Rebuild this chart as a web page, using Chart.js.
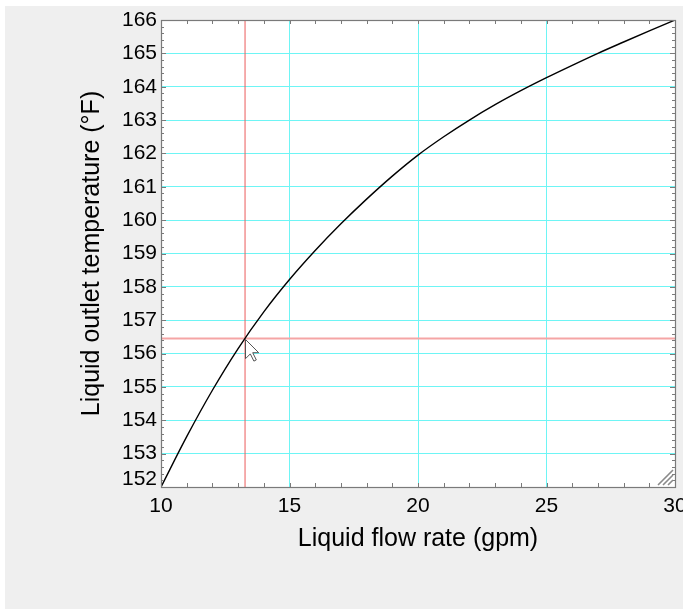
<!DOCTYPE html>
<html><head><meta charset="utf-8">
<script src="https://cdn.jsdelivr.net/npm/chart.js@4"></script>
<style>
html,body{margin:0;padding:0;background:#fff;width:683px;height:609px;overflow:hidden}
#panel{position:absolute;left:5px;top:6px;width:678px;height:603px;background:#efefef;overflow:hidden}
canvas{display:block}
</style></head><body>
<div id="panel"><canvas id="c" width="678" height="603"></canvas></div>
<script>
// ---- data ----
const flowRate   = [10, 11, 12, 13, 14, 15, 16, 17, 18, 19, 20, 21, 22, 23, 24, 25, 26, 27, 28, 29, 30];
const outletTemp = [152.0, 153.51, 154.90, 156.15, 157.25, 158.22, 159.09, 159.89, 160.63, 161.32, 161.95,
                    162.50, 163.00, 163.46, 163.88, 164.27, 164.64, 165.0, 165.34, 165.675, 166.0];
const xTickValues = [10, 15, 20, 25, 30];
const yTickValues = [152, 153, 154, 155, 156, 157, 158, 159, 160, 161, 162, 163, 164, 165, 166];
const markerFlow = [13.27];
const markerTemp = [156.45];
const xTitle = 'Liquid flow rate (gpm)';
const yTitle = 'Liquid outlet temperature (°F)';

const FONT = "'Liberation Sans', Arial, sans-serif";
const CYAN = 'rgb(110,245,245)';
const FRAME = '#7a7a7a';

const xMin = xTickValues[0], xMax = xTickValues[xTickValues.length - 1];
const yMin = yTickValues[0], yMax = yTickValues[yTickValues.length - 1];

const plotBg = {
  id: 'plotBg',
  beforeDraw(chart) {
    const {ctx, chartArea: a} = chart;
    ctx.save();
    ctx.fillStyle = '#fff';
    ctx.fillRect(a.left, a.top, a.right - a.left, a.bottom - a.top);
    ctx.restore();
  }
};

const decor = {
  id: 'decor',
  afterDatasetsDraw(chart) {
    const {ctx, chartArea: a, scales: {x: xs, y: ys}} = chart;
    ctx.save();
    // minor ticks (inward)
    ctx.strokeStyle = FRAME; ctx.lineWidth = 1;
    ctx.beginPath();
    for (let v = xMin + 1; v < xMax; v++) {
      const px = Math.round(xs.getPixelForValue(v)) + 0.5;
      ctx.moveTo(px, a.bottom); ctx.lineTo(px, a.bottom - 4);
      ctx.moveTo(px, a.top); ctx.lineTo(px, a.top + 4);
    }
    for (let i = 1; i < (yMax - yMin) * 5; i++) {
      const v = yMin + i * 0.2;
      const py = Math.round(ys.getPixelForValue(v)) + 0.5;
      const len = (i % 5 === 0) ? 5 : 3;
      ctx.moveTo(a.left, py); ctx.lineTo(a.left + len, py);
      ctx.moveTo(a.right, py); ctx.lineTo(a.right - len, py);
    }
    ctx.stroke();
    // frame
    ctx.strokeStyle = FRAME; ctx.lineWidth = 1.2;
    ctx.strokeRect(Math.round(a.left) + 0.5, Math.round(a.top) + 0.5,
                   Math.round(a.right) - Math.round(a.left), Math.round(a.bottom) - Math.round(a.top));
    // resize grip
    ctx.strokeStyle = '#8a8a8a'; ctx.lineWidth = 1.6;
    ctx.beginPath();
    for (const d of [5, 10, 15]) {
      ctx.moveTo(a.right - 2, a.bottom - 2 - d);
      ctx.lineTo(a.right - 2 - d, a.bottom - 2);
    }
    ctx.stroke();
    // mouse pointer at the crosshair
    const tx = Math.round(xs.getPixelForValue(markerFlow[0])) + 0.5;
    const ty = Math.round(ys.getPixelForValue(markerTemp[0])) + 0.5;
    const s = 1.2;
    const pts = [[0,0],[0,16],[4,12],[7,18],[9,17],[6,11],[11,11]];
    ctx.beginPath();
    pts.forEach(([px, py], i) => { const X = tx + px * s, Y = ty + py * s; i ? ctx.lineTo(X, Y) : ctx.moveTo(X, Y); });
    ctx.closePath();
    ctx.fillStyle = '#fff'; ctx.fill();
    ctx.strokeStyle = '#555'; ctx.lineWidth = 1; ctx.stroke();
    ctx.restore();
  }
};

new Chart(document.getElementById('c'), {
  type: 'line',
  data: {
    datasets: [
      {
        data: flowRate.map((x, i) => ({x, y: outletTemp[i]})),
        borderColor: '#000', borderWidth: 1.4, pointRadius: 0,
        cubicInterpolationMode: 'monotone', order: 0
      },
      {
        data: [{x: xMin, y: markerTemp[0]}, {x: xMax, y: markerTemp[0]}],
        borderColor: 'rgb(245,165,165)', borderWidth: 2, pointRadius: 0, order: 1
      },
      {
        data: [{x: markerFlow[0], y: yMin}, {x: markerFlow[0], y: yMax}],
        borderColor: 'rgb(235,90,90)', borderWidth: 1, pointRadius: 0, order: 2
      }
    ]
  },
  options: {
    responsive: false, animation: false, devicePixelRatio: 1,
    layout: {padding: {top: 14, right: 8, left: 0, bottom: 0}},
    plugins: {legend: {display: false}, tooltip: {enabled: false}},
    events: [],
    scales: {
      x: {
        type: 'linear', position: 'bottom', min: xMin, max: xMax,
        afterBuildTicks: s => { s.ticks = xTickValues.map(v => ({value: v})); },
        afterFit: s => { s.height = 122; s.paddingLeft = 0; s.paddingRight = 0; },
        ticks: {color: '#000', font: {family: FONT, size: 21}, padding: 7, maxRotation: 0, autoSkip: false},
        grid: {
          drawTicks: false, lineWidth: 1,
          color: c => (c.tick && (c.tick.value === xMin || c.tick.value === xMax)) ? 'rgba(0,0,0,0)' : CYAN
        },
        border: {display: false},
        title: {display: true, text: xTitle, color: '#000', font: {family: FONT, size: 25}, padding: {top: 0, bottom: 55}}
      },
      y: {
        type: 'linear', position: 'left', min: yMin, max: yMax,
        afterBuildTicks: s => { s.ticks = yTickValues.map(v => ({value: v})); },
        afterFit: s => { s.width = 156; s.paddingTop = 0; s.paddingBottom = 0; },
        ticks: {
          color: '#000', padding: 4, autoSkip: false,
          font: c => ({family: FONT, size: 21, lineHeight: (c.tick && c.tick.value === yMin) ? 0.75 : 1.2}),
          callback: v => v === yMin ? [String(v), ''] : String(v)
        },
        grid: {
          drawTicks: false, lineWidth: 1,
          color: c => (c.tick && (c.tick.value === yMin || c.tick.value === yMax)) ? 'rgba(0,0,0,0)' : CYAN
        },
        border: {display: false},
        title: {display: true, text: yTitle, color: '#000', font: {family: FONT, size: 25}, padding: {top: 72, bottom: 0}}
      }
    }
  },
  plugins: [plotBg, decor]
});
</script>
</body></html>
